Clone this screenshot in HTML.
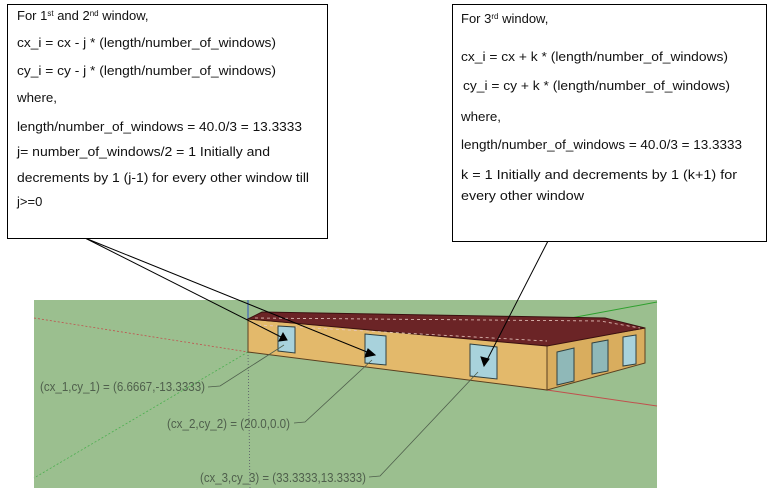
<!DOCTYPE html>
<html><head><meta charset="utf-8"><style>
html,body{margin:0;padding:0;background:#fff;width:777px;height:502px;overflow:hidden}
svg{display:block}
.bx{font-family:"Liberation Sans",sans-serif;font-size:13px;fill:#111}
.lb{font-family:"Liberation Sans",sans-serif;font-size:12.5px;fill:#4f5f4c}
</style></head><body>
<svg width="777" height="502" viewBox="0 0 777 502">
<rect x="34" y="300" width="623" height="188" fill="#9bbf8f"/>
<line x1="34" y1="318" x2="248" y2="352" stroke="#c0504d" stroke-width="0.8" stroke-dasharray="2,2"/>
<line x1="547" y1="390" x2="657" y2="406" stroke="#c0504d" stroke-width="1"/>
<line x1="248" y1="352" x2="34" y2="478" stroke="#4caf50" stroke-width="0.8" stroke-dasharray="2,2"/>
<line x1="560" y1="320" x2="657" y2="302" stroke="#2ea02e" stroke-width="1"/>
<line x1="248" y1="352" x2="250" y2="488" stroke="#556" stroke-width="0.8" stroke-dasharray="1,2"/>
<line x1="248" y1="300" x2="248" y2="320" stroke="#3050c0" stroke-width="1"/>
<g>
<polygon points="248,319 547,345 547,390 248,352" fill="#e3b96b" stroke="#5a4020" stroke-width="1"/>
<polygon points="547,345 645,328 645,363 547,390" fill="#d9ad5e" stroke="#5a4020" stroke-width="1"/>
<polygon points="248,319 262,312 605,318 645,328 547,346" fill="#6b2426" stroke="#3a1010" stroke-width="1"/>
<polyline points="255,318 600,321 640,328" fill="none" stroke="#e8c8c0" stroke-width="0.8" stroke-dasharray="3,3"/>
<polyline points="258,325 547,341" fill="none" stroke="#e8c8c0" stroke-width="0.8" stroke-dasharray="3,3"/>
<polygon points="278,326 295,327 295,353 278,351" fill="#a8d2dc" stroke="#304040"/>
<polygon points="365,334 386,336 386,365 365,363" fill="#a8d2dc" stroke="#304040"/>
<polygon points="470,344 497,347 497,379 470,376" fill="#a8d2dc" stroke="#304040"/>
<polygon points="557,352 574,348 574,381 557,385" fill="#8fb8b8" stroke="#304040"/>
<polygon points="592,343 608,340 608,371 592,374" fill="#8fb8b8" stroke="#304040"/>
<polygon points="623,337 636,335 636,364 623,366" fill="#a8d2dc" stroke="#304040"/>
</g>
<g stroke="#4f5f4c" stroke-width="0.8" fill="none">
<polyline points="208,387 220,386 284,345"/>
<polyline points="294,423 305,422 372,360"/>
<polyline points="369,477 380,476 478,372"/>
</g>
<text class="lb" x="40" y="391" textLength="165" lengthAdjust="spacingAndGlyphs">(cx_1,cy_1) = (6.6667,-13.3333)</text>
<text class="lb" x="167" y="428" textLength="123" lengthAdjust="spacingAndGlyphs">(cx_2,cy_2) = (20.0,0.0)</text>
<text class="lb" x="200" y="482" textLength="166" lengthAdjust="spacingAndGlyphs">(cx_3,cy_3) = (33.3333,13.3333)</text>
<g stroke="#000" stroke-width="1">
<line x1="85" y1="238" x2="287" y2="340"/>
<line x1="85" y1="238" x2="372" y2="354"/>
<line x1="548" y1="241" x2="486" y2="362"/>
<polygon points="287,340 279,341 283,333" fill="#000"/>
<polygon points="375,355 365,357 368,349" fill="#000"/>
<polygon points="484,366 481,357 489,359" fill="#000"/>
</g>
<rect x="7.5" y="4.5" width="320" height="234" fill="#fff" stroke="#000"/>
<g class="bx">
<text x="17" y="20">For 1<tspan font-size="8" dy="-4">st</tspan><tspan dy="4"> and 2</tspan><tspan font-size="8" dy="-4">nd</tspan><tspan dy="4">  window,</tspan></text>
<text x="17" y="47" textLength="259" lengthAdjust="spacingAndGlyphs">cx_i = cx - j * (length/number_of_windows)</text>
<text x="17" y="75" textLength="259" lengthAdjust="spacingAndGlyphs">cy_i = cy - j * (length/number_of_windows)</text>
<text x="17" y="102" textLength="40" lengthAdjust="spacingAndGlyphs">where,</text>
<text x="17" y="131" textLength="285" lengthAdjust="spacingAndGlyphs">length/number_of_windows = 40.0/3 = 13.3333</text>
<text x="17" y="156" textLength="253" lengthAdjust="spacingAndGlyphs">j= number_of_windows/2 = 1  Initially and</text>
<text x="17" y="182" textLength="292" lengthAdjust="spacingAndGlyphs">decrements by 1 (j-1) for every other window till</text>
<text x="17" y="206">j&gt;=0</text>
</g>
<rect x="452.5" y="4.5" width="314" height="237" fill="#fff" stroke="#000"/>
<g class="bx">
<text x="461" y="23">For 3<tspan font-size="8" dy="-4">rd</tspan><tspan dy="4"> window,</tspan></text>
<text x="461" y="61" textLength="267" lengthAdjust="spacingAndGlyphs">cx_i = cx + k * (length/number_of_windows)</text>
<text x="463" y="90" textLength="267" lengthAdjust="spacingAndGlyphs">cy_i = cy + k * (length/number_of_windows)</text>
<text x="461" y="121" textLength="40" lengthAdjust="spacingAndGlyphs">where,</text>
<text x="461" y="149" textLength="281" lengthAdjust="spacingAndGlyphs">length/number_of_windows = 40.0/3 = 13.3333</text>
<text x="461" y="179" textLength="276" lengthAdjust="spacingAndGlyphs">k = 1  Initially and decrements by 1 (k+1) for</text>
<text x="461" y="200" textLength="123" lengthAdjust="spacingAndGlyphs">every other window</text>
</g>
</svg>
</body></html>
